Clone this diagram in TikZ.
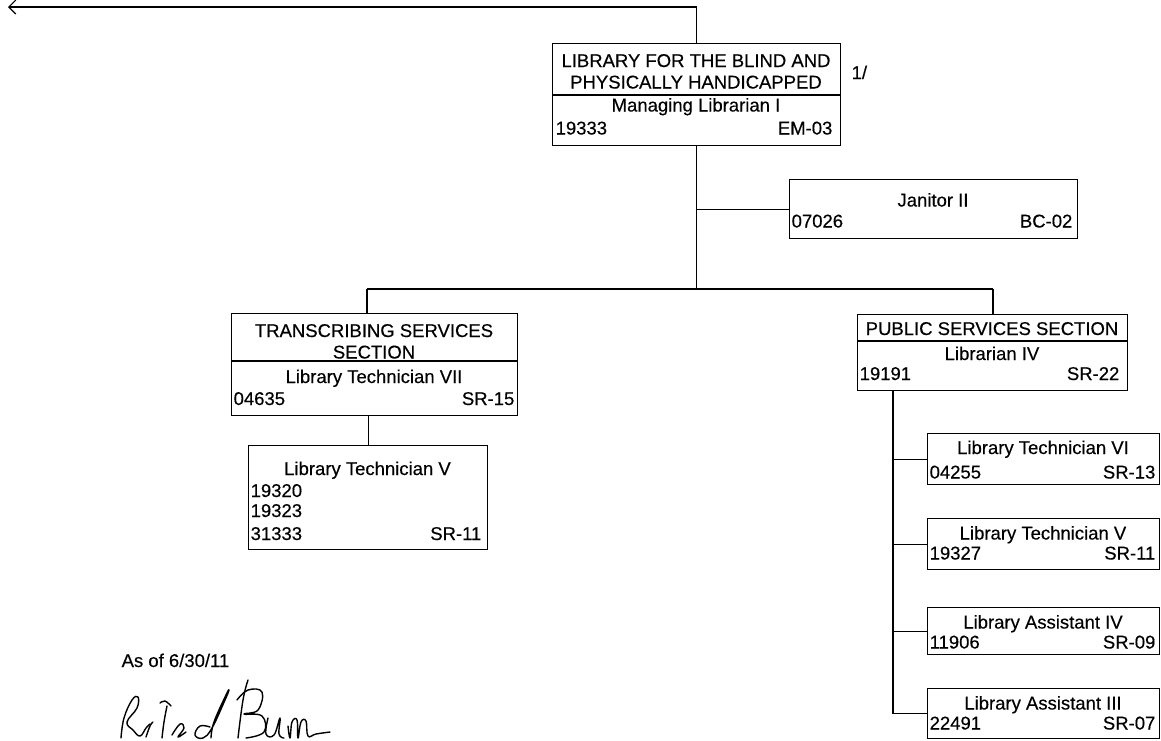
\documentclass[tikz,border=0pt]{standalone}
\usepackage{fontspec}
\setmainfont{Liberation Sans}[BoldFont={Liberation Sans},BoldFeatures={FakeBold=0.35}]
\usetikzlibrary{arrows.meta}
\begin{document}
\begin{tikzpicture}[x=1pt,y=-1pt,
  font=\fontsize{18.5}{22}\selectfont\bfseries,
  line width=1.3pt,
  box/.style={draw, line width=1.3pt, inner sep=0, anchor=north west},
  lbl/.style={inner sep=0, anchor=base},
  lbll/.style={inner sep=0, anchor=base west},
  lblr/.style={inner sep=0, anchor=base east},
  link/.style={draw, line width=1.3pt},
  sig/.style={line width=1.4pt, line cap=round, line join=round}
]
\useasboundingbox (0,0) rectangle (1161,740);

% ---------- boxes ----------
\node[box, minimum width=288pt, minimum height=102pt] (top) at (552,43) {};
\node[box, minimum width=288pt, minimum height=59pt] (jan) at (789,179) {};
\node[box, minimum width=286pt, minimum height=102pt] (trans) at (231,313) {};
\node[box, minimum width=239pt, minimum height=104pt] (ltv) at (248,445) {};
\node[box, minimum width=270pt, minimum height=76pt] (pub) at (857,314) {};
\node[box, minimum width=232pt, minimum height=51pt] (lt6) at (927,433) {};
\node[box, minimum width=232pt, minimum height=51pt] (lt5) at (927,518) {};
\node[box, minimum width=232pt, minimum height=47pt] (la4) at (927,607) {};
\node[box, minimum width=232pt, minimum height=50pt] (la3) at (927,688) {};

% separators
\draw (552,95) -- (840,95);
\draw (231,361) -- (517,361);
\draw (857,341) -- (1127,341);

% ---------- texts ----------
\node[lbl] (t1) at (696,67) {LIBRARY FOR THE BLIND AND};
\node[lbl] (t2) at (696,88.5) {PHYSICALLY HANDICAPPED};
\node[lbl] (t3) at (696,111.5) {Managing Librarian I};
\node[lbll] (t4) at (555,134.5) {19333};
\node[lblr] (t5) at (833,134.5) {EM-03};
\node[lbll] (t6) at (851,79) {1/};

\node[lbl] (j1) at (933,206.5) {Janitor II};
\node[lbll] (j2) at (791,227.5) {07026};
\node[lblr] (j3) at (1073,227.5) {BC-02};

\node[lbl] (a1) at (374,337) {TRANSCRIBING SERVICES};
\node[lbl] (a2) at (374,358.5) {SECTION};
\node[lbl] (a3) at (374,383) {Library Technician VII};
\node[lbll] (a4) at (233,405) {04635};
\node[lblr] (a5) at (515,405) {SR-15};

\node[lbl] (b1) at (367.5,475) {Library Technician V};
\node[lbll] (b2) at (250,497) {19320};
\node[lbll] (b3) at (250,517) {19323};
\node[lbll] (b4) at (250,540) {31333};
\node[lblr] (b5) at (482,540) {SR-11};

\node[lbl] (p1) at (992,335) {PUBLIC SERVICES SECTION};
\node[lbl] (p2) at (992,360) {Librarian IV};
\node[lbll] (p3) at (859,380) {19191};
\node[lblr] (p4) at (1120,380) {SR-22};

\node[lbl] (c1) at (1043,454) {Library Technician VI};
\node[lbll] (c2) at (929,478.5) {04255};
\node[lblr] (c3) at (1156,478.5) {SR-13};

\node[lbl] (d1) at (1043,539.5) {Library Technician V};
\node[lbll] (d2) at (929,559.5) {19327};
\node[lblr] (d3) at (1156,559.5) {SR-11};

\node[lbl] (e1) at (1043,628.5) {Library Assistant IV};
\node[lbll] (e2) at (929,648.5) {11906};
\node[lblr] (e3) at (1156,648.5) {SR-09};

\node[lbl] (f1) at (1043,709.5) {Library Assistant III};
\node[lbll] (f2) at (929,729.5) {22491};
\node[lblr] (f3) at (1156,729.5) {SR-07};

\node[lbll] (asof) at (121,667) {As of 6/30/11};

% ---------- connectors ----------
\coordinate (tl) at (8,7);
\draw[link, line width=1.1pt, -{Straight Barb[length=7pt,width=14pt]}] (top.north) |- (tl);
\coordinate (busL) at (367,289);
\coordinate (busR) at (993,289);
\draw[link] (top.south) -- (top.south |- busL);
\draw[link] (busL) -- (busR);
\draw[link] (top.south |- jan.west) -- (jan.west);
\draw[link] (busL) -- (busL |- trans.north);
\draw[link] (busR) -- (busR |- pub.north);
\draw[link] (ltv.north |- trans.south) -- (ltv.north);
\coordinate (sp) at (893,390);
\draw[link] (sp) |- (la3.west);
\draw[link] (sp |- lt6.west) -- (lt6.west);
\draw[link] (sp |- lt5.west) -- (lt5.west);
\draw[link] (sp |- la4.west) -- (la4.west);

% ---------- signature ----------
\draw[sig] plot[smooth, tension=0.7] coordinates {(121,738) (124,718) (132,700) (138,697) (137,708) (127,722) (133,730) (140,736) (146,728) (150,724)};
\draw[sig] plot[smooth, tension=0.7] coordinates {(146,737) (150,726) (153,722)};
\draw[sig] plot[smooth, tension=0.7] coordinates {(160,703) (165,701) (171,706)};
\draw[sig] plot[smooth, tension=0.7] coordinates {(167,706) (164,722) (162,738)};
\draw[sig] plot[smooth, tension=0.7] coordinates {(172,735) (180,724) (184,728) (178,737) (186,732)};
\draw[sig] plot[smooth, tension=0.7] coordinates {(210,727) (200,726) (195,735) (203,738) (212,728) (225,700) (229,690) (226,695) (214,722) (211,738)};
\draw[sig] plot[smooth, tension=0.7] coordinates {(248,680) (243,700) (238,738)};
\draw[sig] plot[smooth, tension=0.7] coordinates {(237,700) (248,690) (262,692) (258,710) (244,714) (262,716) (264,732) (246,738)};
\draw[sig] plot[smooth, tension=0.7] coordinates {(268,718) (266,734) (274,735) (280,718) (279,734) (284,738)};
\draw[sig] plot[smooth, tension=0.7] coordinates {(288,726) (290,738) (292,722) (297,720) (298,738) (301,722) (306,721) (308,736) (316,734) (330,732)};
\end{tikzpicture}
\end{document}
